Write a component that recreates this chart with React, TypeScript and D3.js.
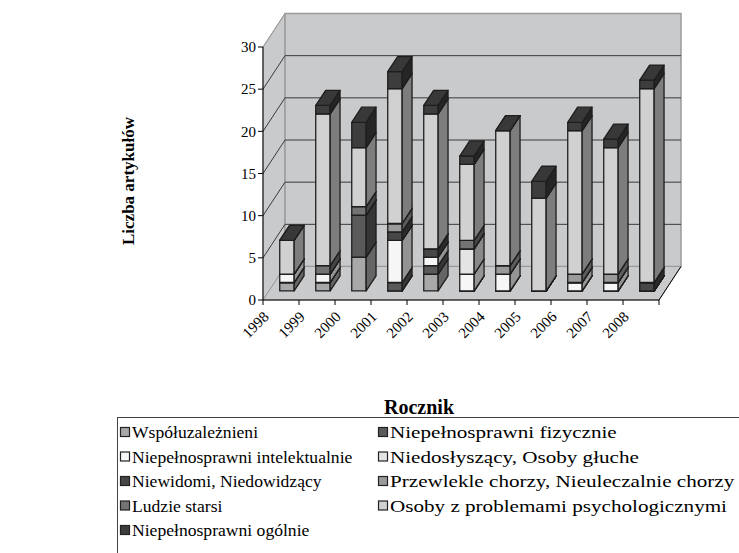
import React from "react";
import * as d3 from "d3";

const years = ["1998", "1999", "2000", "2001", "2002", "2003", "2004", "2005", "2006", "2007", "2008"];

const seriesNames = [
  "Współuzależnieni",
  "Niepełnosprawni fizycznie",
  "Niepełnosprawni intelektualnie",
  "Niedosłyszący, Osoby głuche",
  "Niewidomi, Niedowidzący",
  "Przewlekle chorzy, Nieuleczalnie chorzy",
  "Ludzie starsi",
  "Osoby z problemami psychologicznymi",
  "Niepełnosprawni ogólnie",
];

// one array per series, values per year (1998..2008)
const wspoluzaleznieni = [1, 1, 4, 0, 2, 0, 0, 0, 0, 0, 0];
const fizycznie = [0, 0, 5, 1, 1, 0, 0, 0, 0, 0, 0];
const intelektualnie = [1, 1, 0, 5, 1, 2, 2, 0, 1, 1, 0];
const niedoslyszacy = [0, 0, 0, 0, 0, 3, 0, 0, 0, 0, 0];
const niewidomi = [0, 0, 0, 1, 1, 0, 0, 0, 0, 0, 1];
const przewlekle = [0, 0, 0, 1, 0, 0, 1, 0, 1, 1, 0];
const ludzieStarsi = [0, 1, 1, 0, 0, 1, 0, 0, 0, 0, 0];
const psychologiczne = [4, 18, 7, 16, 16, 9, 16, 11, 17, 15, 23];
const ogolnie = [0, 1, 3, 2, 1, 1, 0, 2, 1, 1, 1];

const seriesValues = [
  wspoluzaleznieni, fizycznie, intelektualnie, niedoslyszacy, niewidomi,
  przewlekle, ludzieStarsi, psychologiczne, ogolnie,
];

const seriesColors = [
  "#a8a8a8", "#5a5a5a", "#f6f6f6", "#e4e4e4", "#474747",
  "#9a9a9a", "#737373", "#d1d1d1", "#3d3d3d",
];

const yTicks = [0, 5, 10, 15, 20, 25, 30];

const W = 739;
const H = 553;
const font = "Liberation Serif, Times New Roman, serif";

// 3D geometry
const depthX = 22;
const depthY = 33.5;
const barOffset = 0.27; // where the bar front sits inside the depth
const barDepth = 0.45;

export default function App() {
  const x = d3.scaleBand<string>().domain(years).range([263, 659]).paddingInner(0.6).paddingOuter(0.3);
  const y = d3.scaleLinear().domain([0, 30]).range([300, 47]);
  const step = x.step();

  const rows = years.map((yr, i) => {
    const obj: any = { year: yr };
    seriesNames.forEach((s, k) => (obj[s] = seriesValues[k][i]));
    return obj;
  });
  const stacked = d3.stack<any>().keys(seriesNames)(rows);

  const ox = barOffset * depthX;
  const oy = barOffset * depthY;
  const bx = barDepth * depthX;
  const by = barDepth * depthY;

  const pts = (a: number[][]) => a.map((p) => p.join(",")).join(" ");

  const bars: any[] = [];
  years.forEach((yr, i) => {
    const x0 = x(yr)! + ox;
    const x1 = x0 + x.bandwidth();
    stacked.forEach((layer, k) => {
      const [v0, v1] = layer[i];
      const yb = y(v0) - oy;
      const yt = y(v1) - oy;
      const c = seriesColors[k];
      const side = d3.interpolateRgb(c, "#000")(0.4);
      const top = d3.interpolateRgb(c, "#000")(0.08);
      bars.push(
        <g key={yr + "-" + k} stroke="#1e1e1e" strokeWidth={1.3} strokeLinejoin="round">
          <polygon points={pts([[x0, yb], [x1, yb], [x1, yt], [x0, yt]])} fill={c} />
          <polygon points={pts([[x1, yb], [x1 + bx, yb - by], [x1 + bx, yt - by], [x1, yt]])} fill={side} />
          <polygon points={pts([[x0, yt], [x1, yt], [x1 + bx, yt - by], [x0 + bx, yt - by]])} fill={top} />
        </g>
      );
    });
  });

  const left = 263;
  const right = 659;
  const wallFill = "#c9cacc";
  const txt = { fontFamily: font };

  return (
    <svg width={W} height={H} style={{ position: "absolute", left: 0, top: 0 }}>
      <rect width={W} height={H} fill="#fff" />
      {/* walls and floor */}
      <polygon points={pts([[left, y(0)], [left, y(30)], [left + depthX, y(30) - depthY], [left + depthX, y(0) - depthY]])}
        fill={wallFill} stroke="#9a9a9a" strokeWidth={1} />
      <polygon points={pts([[left + depthX, y(30) - depthY], [right + depthX, y(30) - depthY], [right + depthX, y(0) - depthY], [left + depthX, y(0) - depthY]])}
        fill={wallFill} stroke="#9a9a9a" strokeWidth={1.5} />
      <polygon points={pts([[left, y(0)], [right, y(0)], [right + depthX, y(0) - depthY], [left + depthX, y(0) - depthY]])}
        fill={wallFill} stroke="#9a9a9a" strokeWidth={1} />
      {/* gridlines */}
      {yTicks.filter((t) => t > 0 && t < 30).map((t) => (
        <g key={"g" + t} stroke="#3a3a3a" strokeWidth={1}>
          <line x1={left} y1={y(t)} x2={left + depthX} y2={y(t) - depthY} />
          <line x1={left + depthX} y1={y(t) - depthY} x2={right + depthX} y2={y(t) - depthY} />
        </g>
      ))}
      <line x1={left} y1={y(30)} x2={left + depthX} y2={y(30) - depthY} stroke="#9a9a9a" />
      {bars}
      {/* axes */}
      <g stroke="#000" strokeWidth={1}>
        <line x1={left} y1={y(0)} x2={left} y2={y(30)} />
        <line x1={left} y1={y(0)} x2={right} y2={y(0)} />
        <line x1={right} y1={y(0)} x2={right + depthX} y2={y(0) - depthY} />
        {yTicks.map((t) => (
          <line key={"yt" + t} x1={left - 5} y1={y(t)} x2={left} y2={y(t)} />
        ))}
        {d3.range(years.length + 1).map((i) => (
          <line key={"xt" + i} x1={left + i * step} y1={y(0)} x2={left + i * step} y2={y(0) + 5} />
        ))}
      </g>
      {yTicks.map((t) => (
        <text key={"yl" + t} x={left - 7} y={y(t)} dy="0.35em" textAnchor="end" fontSize={15} style={txt}>
          {t}
        </text>
      ))}
      {years.map((yr) => {
        const cx = x(yr)! + x.bandwidth() / 2 - 15;
        const cy = y(0) + 14;
        return (
          <text key={"xl" + yr} x={cx} y={cy} dy="0.35em" textAnchor="end" fontSize={15} style={txt}
            transform={`rotate(-45,${cx},${cy})`}>
            {yr}
          </text>
        );
      })}
      <text x={128} y={181} fontSize={17} fontWeight="bold" textAnchor="middle" dy="0.35em" style={txt}
        transform="rotate(-90,128,181)">
        Liczba artykułów
      </text>
      <text x={419} y={407} fontSize={20} fontWeight="bold" textAnchor="middle" dy="0.35em" style={txt}>
        Rocznik
      </text>
      {/* legend */}
      <rect x={117.5} y={417.5} width={640} height={150} fill="#fff" stroke="#444" strokeWidth={1} />
      {seriesNames.map((s, k) => {
        const col = k % 2;
        const row = Math.floor(k / 2);
        const lx = col === 0 ? 120 : 378;
        const ly = 432 + row * 24.5;
        const sx = col === 0 ? 1 : 1.2;
        return (
          <g key={"lg" + k}>
            <rect x={lx + 0.5} y={ly - 4.5} width={9} height={9} fill={seriesColors[k]} stroke="#222" strokeWidth={1.2} />
            <text x={0} y={0} dy="0.35em" fontSize={17.6} style={txt}
              transform={`translate(${lx + 12},${ly}) scale(${sx},1)`}>
              {s}
            </text>
          </g>
        );
      })}
    </svg>
  );
}
